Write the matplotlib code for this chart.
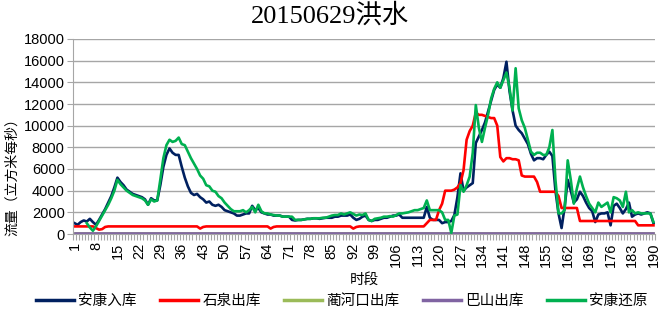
import numpy as np
import matplotlib
matplotlib.use("Agg")
import matplotlib.pyplot as plt
from matplotlib.ticker import FixedLocator, NullFormatter

nan = float("nan")

periods = list(range(1, 191))
tick_labels = [str(v) for v in range(1, 191, 7)]

ankang_in = [
    1000, 850, 1100, 1250, 1150, 1400, 1100, 850, 1300, 1800,
    2300, 2900, 3500, 4300, 5200, 4800, 4500, 4100, 3900, 3700,
    3600, 3500, 3400, 3200, 2700, 3300, 3100, 3100, 4500, 6200,
    7300, 7900, 7500, 7300, 7300, 6200, 5200, 4400, 3800, 3600,
    3700, 3400, 3200, 2900, 3000, 2700, 2600, 2700, 2500, 2200,
    2100, 2000, 1900, 1700, 1700, 1800, 1900, 1900, 2600, 2200,
    2400, 2000, 1900, 1800, 1800, 1700, 1700, 1700, 1600, 1600,
    1600, 1300, 1250, 1300, 1300, 1350, 1400, 1400, 1450, 1450,
    1400, 1450, 1500, 1500, 1500, 1600, 1600, 1700, 1700, 1700,
    1800, 1500, 1300, 1400, 1600, 1700, 1300, 1200, 1300, 1300,
    1400, 1500, 1500, 1600, 1700, 1700, 1800, 1500, 1500, 1500,
    1500, 1500, 1500, 1500, 1500, 2500, 1500, 1300, 1300, 1300,
    1000, 1100, 1100, 1200, 1750, 3400, 5600, 4000, 4300, 4500,
    4700, 8400, 9000, 9600, 10300, 11300, 12300, 13300, 13800, 13500,
    14400, 15900, 13200, 11400, 10000, 9600, 9300, 8800, 8300, 7400,
    6800, 7000, 7000, 6900, 7300, 7600, 7200, 4000, 1900, 550,
    2500, 5000, 4000, 2900, 3200, 3900, 3500, 2900, 2400, 2100,
    1100, 1800, 1900, 1900, 2000, 800, 2600, 2800, 2400, 1900,
    2300, 2900, 1600, 1800, 1900, 1800, 1900, 2000, 1900, 1000,
]

shiquan_out = [
    700, 700, 700, 700, 700, 700, 700, 550, 400, 450,
    650, 700, 700, 700, 700, 700, 700, 700, 700, 700,
    700, 700, 700, 700, 700, 700, 700, 700, 700, 700,
    700, 700, 700, 700, 700, 700, 700, 700, 700, 700,
    700, 500, 650, 700, 700, 700, 700, 700, 700, 700,
    700, 700, 700, 700, 700, 700, 700, 700, 700, 700,
    700, 700, 700, 700, 500, 650, 700, 700, 700, 700,
    700, 700, 700, 700, 700, 700, 700, 700, 700, 700,
    700, 700, 700, 700, 700, 700, 700, 700, 700, 700,
    700, 500, 650, 700, 700, 700, 700, 700, 700, 700,
    700, 700, 700, 700, 700, 700, 700, 700, 700, 700,
    700, 700, 700, 700, 700, 1000, 1300, 1300, 1300, 2200,
    2800, 4000, 4000, 4000, 4100, 4300, 4700, 5900, 8700, 9500,
    10000, 11200, 11000, 11000, 10900, 10800, 10700, 10700, 10000, 7100,
    6700, 7000, 7000, 6900, 6900, 6800, 5400, 5300, 5300, 5300,
    5300, 4800, 3900, 3900, 3900, 3900, 3900, 3900, 3500, 2400,
    2400, 2400, 2400, 2400, 2400, 1200, 1200, 1200, 1200, 1200,
    1200, 1200, 1200, 1200, 1200, 1200, 1200, 1200, 1200, 1200,
    1200, 1200, 1200, 1200, 800, 800, 800, 800, 800, 800,
]

lanhekou_out = [
    50, 50, 50, 50, 50, 50, 50, 50, 50, 50,
    50, 50, 50, 50, 50, 50, 50, 50, 50, 50,
    50, 50, 50, 50, 50, 50, 50, 50, 50, 50,
    50, 50, 50, 50, 50, 50, 50, 50, 50, 50,
    50, 50, 50, 50, 50, 50, 50, 50, 50, 50,
    50, 50, 50, 50, 50, 50, 50, 50, 50, 50,
    50, 50, 50, 50, 50, 50, 50, 50, 50, 50,
    50, 50, 50, 50, 50, 50, 50, 50, 50, 50,
    50, 50, 50, 50, 50, 50, 50, 50, 50, 50,
    50, 50, 50, 50, 50, 50, 50, 50, 50, 50,
    50, 50, 50, 50, 50, 50, 50, 50, 50, 50,
    50, 50, 50, 50, 50, 50, 50, 50, 50, 50,
    50, 50, 50, 50, 50, 50, 50, 50, 50, 50,
    50, 50, 50, 50, 50, 50, 50, 50, 50, 50,
    50, 50, 50, 50, 50, 50, 50, 50, 50, 50,
    50, 50, 50, 50, 50, 50, 50, 50, 50, 50,
    50, 50, 50, 50, 50, 50, 50, 50, 50, 50,
    50, 50, 50, 50, 50, 50, 50, 50, 50, 50,
    50, 50, 50, 50, 50, 50, 50, 50, 50, 50,
]

bashan_out = [
    90, 90, 90, 90, 90, 90, 90, 90, 90, 90,
    90, 90, 90, 90, 90, 90, 90, 90, 90, 90,
    90, 90, 90, 90, 90, 90, 90, 90, 90, 90,
    90, 90, 90, 90, 90, 90, 90, 90, 90, 90,
    90, 90, 90, 90, 90, 90, 90, 90, 90, 90,
    90, 90, 90, 90, 90, 90, 90, 90, 90, 90,
    90, 90, 90, 90, 90, 90, 90, 90, 90, 90,
    90, 90, 90, 90, 90, 90, 90, 90, 90, 90,
    90, 90, 90, 90, 90, 90, 90, 90, 90, 90,
    90, 90, 90, 90, 90, 90, 90, 90, 90, 90,
    90, 90, 90, 90, 90, 90, 90, 90, 90, 90,
    90, 90, 90, 90, 90, 90, 90, 90, 90, 90,
    90, 90, 90, 90, 90, 90, 90, 90, 90, 90,
    90, 90, 90, 90, 90, 90, 90, 90, 90, 90,
    90, 90, 90, 90, 90, 90, 90, 90, 90, 90,
    90, 90, 90, 90, 90, 90, 90, 90, 90, 90,
    90, 90, 90, 90, 90, 90, 90, 90, 90, 90,
    90, 90, 90, 90, 90, 90, 90, 90, 90, 90,
    90, 90, 90, 90, 90, 90, 90, 90, 90, 90,
]

ankang_restored = [
    nan, nan, nan, nan, 1000, 600, 300, 700, 1200, 1700,
    2200, 2700, 3300, 4000, 5000, 4600, 4300, 4000, 3800, 3600,
    3500, 3400, 3300, 3100, 2700, 3200, 3000, 3100, 5000, 7000,
    8200, 8700, 8500, 8600, 8900, 8300, 8200, 7600, 7000, 6500,
    6000, 5400, 5100, 4500, 4400, 4000, 3900, 3500, 3300, 2900,
    2600, 2300, 2100, 2100, 2100, 2200, 2000, 2200, 2500, 2000,
    2700, 2100, 1900, 1900, 1800, 1750, 1700, 1700, 1600, 1600,
    1600, 1600, 1300, 1300, 1300, 1350, 1400, 1400, 1450, 1450,
    1450, 1500, 1500, 1600, 1700, 1750, 1750, 1900, 1800, 1900,
    2000, 1850, 1700, 1800, 1750, 1900, 1300, 1200, 1400, 1450,
    1500, 1600, 1600, 1650, 1600, 1750, 1900, 1900, 1950, 2000,
    2100, 2200, 2200, 2300, 2400, 3100, 2200, 2200, 2200, 2200,
    2000, 1300, 1300, 100, 1700, 1800, 4500, 3900, 4500, 5300,
    7500, 11900, 9800, 8500, 9800, 11000, 12500, 13400, 14000, 13500,
    14200, 14900, 13500, 11400, 15300, 11600, 10500, 9800, 8700, 7600,
    7300, 7500, 7500, 7300, 7300, 8000, 9600, 5000, 1900, 1900,
    2200, 6800, 5000, 2800, 4200, 5300, 4300, 3500, 2800, 2400,
    2000, 2900, 2500, 2700, 2900, 2000, 3400, 3300, 3100, 2500,
    3900, 2000, 2200, 1900, 2000, 1900, 1900, 1900, 1900, 1100,
]

series_names = ["安康入库", "石泉出库", "蔺河口出库", "巴山出库", "安康还原"]
series_colors = ["#002060", "#FF0000", "#9BBB59", "#8064A2", "#00B050"]

plt.rcParams["font.family"] = ["Liberation Sans", "Noto Sans CJK SC", "DejaVu Sans"]
cjk = ["Noto Sans CJK SC", "DejaVu Sans"]

fig = plt.figure(figsize=(6.61, 3.10), dpi=100)
ax = fig.add_axes([73 / 661, 1 - 234 / 310, 582 / 661, 195 / 310])

all_series = [ankang_in, shiquan_out, lanhekou_out, bashan_out, ankang_restored]
for vals, name, col in zip(all_series, series_names, series_colors):
    ax.plot(periods, vals, color=col, lw=1.9, label=name, solid_joinstyle="round")

ax.set_xlim(0.5, 190.5)
ax.set_ylim(0, 18000)
ax.set_yticks(np.arange(0, 18001, 2000))
ax.yaxis.grid(True, color="#A6A6A6", lw=1.0)
ax.set_axisbelow(True)

major_pos = [int(t) for t in tick_labels]
ax.set_xticks(major_pos)
ax.set_xticklabels(tick_labels, rotation=90, fontsize=10.5)
ax.xaxis.set_minor_locator(FixedLocator(np.arange(0.5, 191, 1)))
ax.xaxis.set_minor_formatter(NullFormatter())
ax.tick_params(axis="x", which="major", length=0, pad=6)
ax.tick_params(axis="x", which="minor", length=4, color="#A6A6A6", width=0.8)
ax.tick_params(axis="y", which="major", length=4, color="#A6A6A6", labelsize=10.5, pad=2)

for s in ["top", "right"]:
    ax.spines[s].set_visible(False)
ax.spines["left"].set_color("#A6A6A6")
ax.spines["bottom"].set_color("#A6A6A6")

fig.text(0.5, 1 - 15 / 310, "20150629洪水", ha="center", va="center", fontsize=19,
         family=["Liberation Serif", "Noto Sans CJK SC"])
fig.text(364 / 661, 1 - 280 / 310, "时段", ha="center", va="center", fontsize=10.5, family=cjk)
fig.text(12 / 661, 1 - 174 / 310, "流量（立方米每秒）", ha="center", va="center", rotation=90,
         fontsize=10, family=cjk)

leg = fig.legend(loc="center", bbox_to_anchor=(342 / 661, 1 - 301 / 310), ncol=5, frameon=False,
                 prop={"family": cjk, "size": 10.5}, handlelength=2.6, columnspacing=1.6,
                 handletextpad=0.3, borderaxespad=0)
for line in leg.get_lines():
    line.set_linewidth(2.5)

fig.savefig("out.png", dpi=100)
